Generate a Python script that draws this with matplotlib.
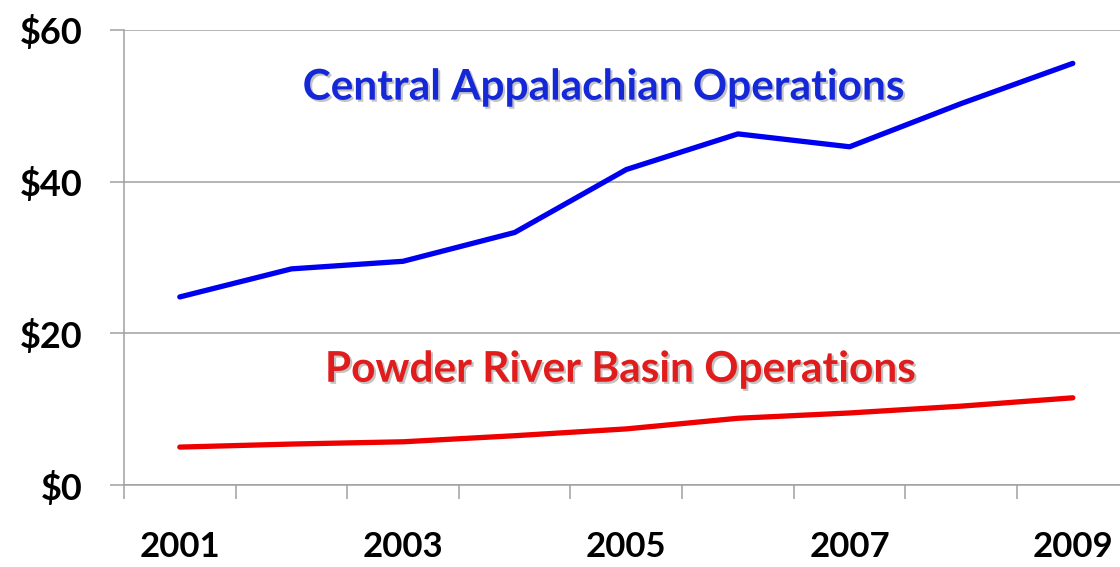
import matplotlib
matplotlib.use('Agg')
import matplotlib.pyplot as plt
import matplotlib.patheffects as pe
import numpy as np

years = ['2001', '2002', '2003', '2004', '2005', '2006', '2007', '2008', '2009']
year_labels = ['2001', '', '2003', '', '2005', '', '2007', '', '2009']
central_app = [24.8, 28.5, 29.5, 33.3, 41.6, 46.3, 44.6, 50.3, 55.6]
powder_river = [5.0, 5.4, 5.7, 6.5, 7.4, 8.8, 9.5, 10.4, 11.5]
y_ticks = [0, 20, 40, 60]
y_labels = ['$0', '$20', '$40', '$60']

plt.rcParams['font.family'] = ['Lato', 'DejaVu Sans']

fig = plt.figure(figsize=(11.2, 5.67), dpi=100)
ax = fig.add_axes([0.1107, 0.1446, 0.897, 0.8025])

x = np.arange(len(years))
ax.plot(x, central_app, color='#0000f0', linewidth=3.8, solid_capstyle='round')
ax.plot(x, powder_river, color='#ee0000', linewidth=3.8, solid_capstyle='round')

ax.set_xlim(-0.5, len(years) - 0.5)
ax.set_ylim(0, 60)

# y axis: gridlines + labels
ax.set_yticks(y_ticks)
ax.set_yticklabels(y_labels, fontsize=26, fontweight='bold')
ax.yaxis.grid(True, color='#a0a0a0', linewidth=1.1)
ax.tick_params(axis='y', length=10, width=1.1, color='#a0a0a0', pad=20)

# x axis: ticks at category boundaries, labels at centres
ax.set_xticks(np.arange(len(years) + 1) - 0.5)
ax.set_xticklabels([])
ax.set_xticks(x, minor=True)
ax.set_xticklabels(year_labels, minor=True, fontsize=25, fontweight='bold')
ax.tick_params(axis='x', which='major', length=10, width=1.1, color='#a0a0a0')
ax.tick_params(axis='x', which='minor', length=0, pad=33)

for side in ['top', 'right']:
    ax.spines[side].set_visible(False)
for side in ['left', 'bottom']:
    ax.spines[side].set_color('#a0a0a0')
    ax.spines[side].set_linewidth(1.1)
ax.set_axisbelow(True)

shadow = [pe.SimplePatchShadow(offset=(1.5, -1.5), shadow_rgbFace='#888888', alpha=0.5), pe.Normal()]
ax.text(3.8, 52.4, 'Central Appalachian Operations', color='#1428d8', fontsize=30.5,
        fontweight='bold', ha='center', va='center', path_effects=shadow)
ax.text(3.95, 15.2, 'Powder River Basin Operations', color='#e01c1c', fontsize=30.5,
        fontweight='bold', ha='center', va='center', path_effects=shadow)

plt.savefig('out.png', dpi=100)
plt.close()
